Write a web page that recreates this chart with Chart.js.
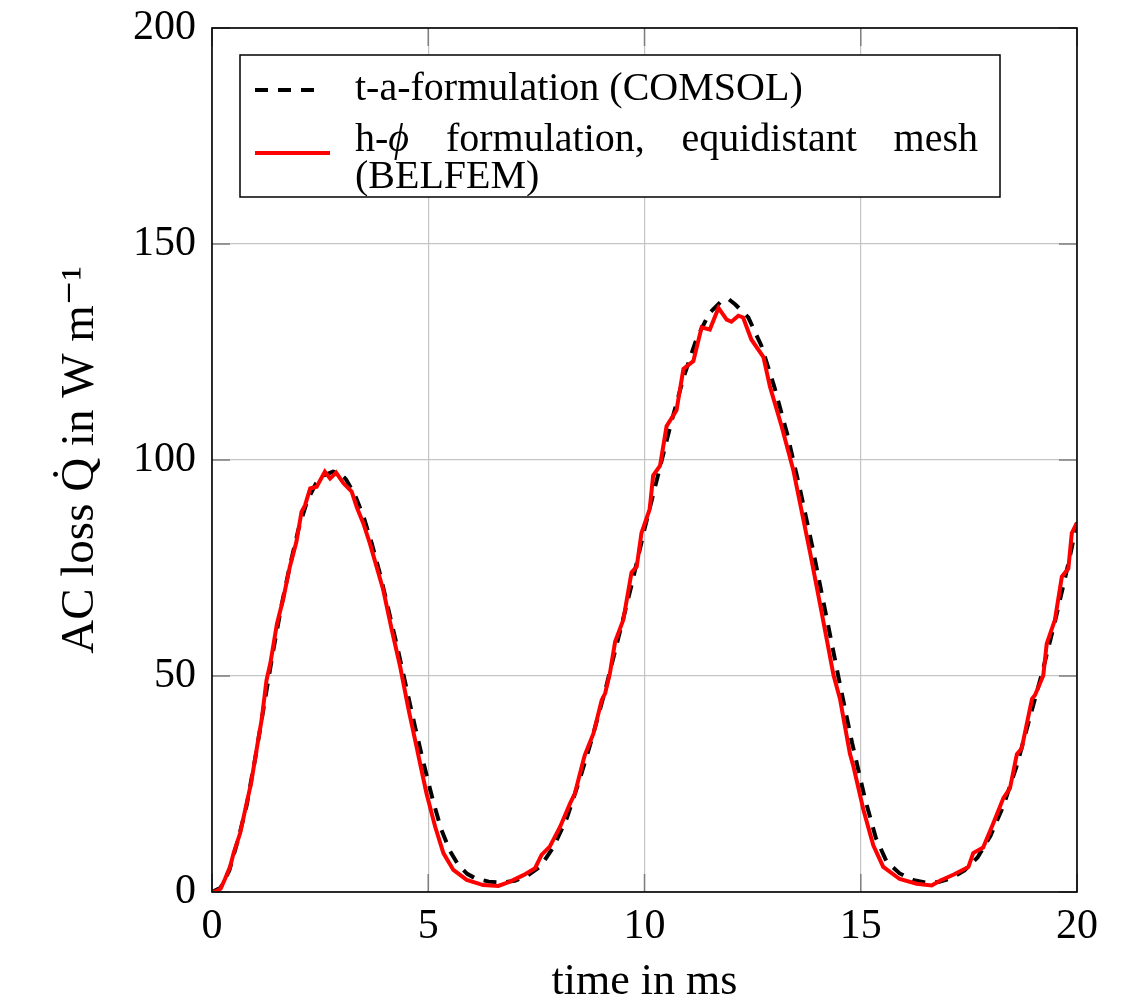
<!DOCTYPE html>
<html>
<head>
<meta charset="utf-8">
<script src="https://cdn.jsdelivr.net/npm/chart.js@4/dist/chart.umd.min.js"></script>
<style>
  html, body { margin: 0; padding: 0; background: #fff; }
  #wrap { width: 1147px; height: 1006px; }
</style>
</head>
<body>
<div id="wrap"><canvas id="myChart" width="1147" height="1006"></canvas></div>
<script>
// t-a-formulation (COMSOL), time in ms / loss in W/m
const comsolTime = [0, 0.2, 0.4, 0.6, 0.8, 1.0, 1.2, 1.4, 1.6, 1.8, 2.0, 2.2, 2.4, 2.6, 2.8, 2.95, 3.1, 3.3, 3.5, 3.7,
  3.9, 4.1, 4.3, 4.5, 4.7, 4.9, 5.1, 5.3, 5.5, 5.7, 5.9, 6.1, 6.4, 6.7, 7.0, 7.3, 7.6, 7.9, 8.2, 8.5,
  8.8, 9.1, 9.4, 9.7, 10.0, 10.3, 10.6, 10.9, 11.2, 11.5, 11.8, 11.95, 12.1, 12.4, 12.7, 13.0, 13.3, 13.6, 13.9, 14.2,
  14.5, 14.8, 15.1, 15.35, 15.6, 15.9, 16.2, 16.5, 16.8, 17.1, 17.4, 17.7, 18.0, 18.3, 18.6, 18.9, 19.2, 19.5, 19.8, 20.0];
const comsolLoss = [0, 1, 5, 12, 20, 31, 43, 55, 66, 75.5, 84, 90.5, 94.5, 96.5, 97.3, 97, 95.5, 92, 87, 80.5,
  73, 64.5, 56, 47, 38, 29.5, 21.5, 14.5, 9.5, 6.2, 4.2, 3.1, 2.4, 2.2, 2.6, 3.8, 6, 10.5, 17, 26,
  36, 47, 59, 71, 84, 96, 108, 119, 128, 134, 137, 137.2, 136, 133, 126.5, 117, 106, 93, 79, 64,
  49, 34.5, 21.5, 12.5, 7, 4.3, 2.8, 2.2, 2.3, 3.2, 5, 8, 13, 20, 29, 40, 51, 63, 76, 85.5];

// h-phi formulation, equidistant mesh (BELFEM)
const belfemTime = [0, 0.1, 0.2, 0.3, 0.42, 0.5, 0.65, 0.8, 0.9, 1.03, 1.15, 1.26, 1.35, 1.5, 1.65, 1.8, 1.95, 2.07, 2.15, 2.27,
  2.42, 2.61, 2.73, 2.87, 3.04, 3.23, 3.35, 3.5, 3.65, 3.8, 3.96, 4.15, 4.35, 4.55, 4.73, 4.81, 4.96, 5.16, 5.35, 5.58,
  5.89, 6.27, 6.62, 6.89, 7.2, 7.47, 7.62, 7.81, 8.05, 8.28, 8.39, 8.59, 8.62, 8.82, 9.01, 9.09, 9.2, 9.32, 9.51, 9.7,
  9.82, 9.93, 10.12, 10.2, 10.36, 10.51, 10.74, 10.9, 11.13, 11.32, 11.51, 11.71, 11.9, 12.01, 12.17, 12.28, 12.47, 12.75, 12.9, 13.17,
  13.44, 13.83, 14.1, 14.37, 14.52, 14.75, 14.83, 15.06, 15.29, 15.52, 15.9, 16.29, 16.64, 16.83, 17.14, 17.49, 17.6, 17.83, 18.06, 18.3,
  18.45, 18.61, 18.72, 18.96, 19.03, 19.22, 19.3, 19.49, 19.65, 19.8, 19.88, 20.0];
const belfemLoss = [0, 0.2, 0.8, 3, 5.9, 9, 13.6, 20.5, 25, 32.9, 40, 49, 53, 62, 68, 75.3, 81, 88, 89.5, 93.4,
  93.8, 97.3, 95.7, 97.1, 94.6, 92.7, 89, 85.3, 80.7, 75.5, 69.9, 61, 52.2, 42, 33.6, 29.8, 22.8, 15.1, 9, 5.1,
  2.8, 1.6, 1.4, 2.4, 3.9, 5.5, 8.6, 10.5, 15.1, 20.5, 22.8, 30.6, 31.7, 36.7, 44.4, 46, 50.6, 57.9, 63, 74,
  75.3, 83.1, 88.6, 96.4, 98.7, 107.8, 111.5, 121.1, 122.9, 130.7, 130.2, 135.2, 132.5, 132, 133.4, 133, 127.9, 123.8, 117, 107.8,
  97.7, 78.5, 64.5, 50.2, 44.7, 32, 29.1, 19.1, 10.8, 5.8, 3, 1.9, 1.5, 2.6, 4, 5.8, 9, 10.3, 15.8, 21.8,
  24, 31.9, 33.2, 44.7, 45.6, 50.1, 57.5, 63, 73, 74.9, 83.1, 85.5];

const xTickValues = [0, 5, 10, 15, 20];
const yTickValues = [0, 50, 100, 150, 200];

const seriesNames = ["t-a-formulation (COMSOL)", "h-ϕ formulation, equidistant mesh (BELFEM)"];

const serif = '"Liberation Serif", "DejaVu Serif", serif';

function toPoints(xs, ys) {
  return xs.map((x, i) => ({ x: x, y: ys[i] }));
}

// frame + pgfplots style inner tick marks
const framePlugin = {
  id: "frame",
  afterDatasetsDraw(chart) {
    const { ctx, chartArea: a, scales } = chart;
    ctx.save();
    ctx.strokeStyle = "#7f7f7f";
    ctx.lineWidth = 1.5;
    ctx.beginPath();
    xTickValues.forEach((v) => {
      const px = scales.x.getPixelForValue(v);
      ctx.moveTo(px, a.bottom); ctx.lineTo(px, a.bottom - 18);
      ctx.moveTo(px, a.top); ctx.lineTo(px, a.top + 18);
    });
    yTickValues.forEach((v) => {
      const py = scales.y.getPixelForValue(v);
      ctx.moveTo(a.left, py); ctx.lineTo(a.left + 18, py);
      ctx.moveTo(a.right, py); ctx.lineTo(a.right - 18, py);
    });
    ctx.stroke();
    ctx.strokeStyle = "#000";
    ctx.lineWidth = 1.6;
    ctx.strokeRect(a.left, a.top, a.right - a.left, a.bottom - a.top);
    ctx.restore();
  }
};

// legend box like the pgfplots one (second entry wraps and is justified)
const legendPlugin = {
  id: "boxLegend",
  afterDraw(chart) {
    const ctx = chart.ctx;
    const ds = chart.data.datasets;
    const bx = 240, by = 55, bw = 760, bh = 142;
    ctx.save();
    ctx.fillStyle = "#fff";
    ctx.fillRect(bx, by, bw, bh);
    ctx.strokeStyle = "#000";
    ctx.lineWidth = 1.5;
    ctx.strokeRect(bx, by, bw, bh);

    // samples
    ctx.lineWidth = 4;
    ctx.strokeStyle = ds[1].borderColor;
    ctx.setLineDash(ds[1].borderDash);
    ctx.beginPath(); ctx.moveTo(255, 90); ctx.lineTo(322, 90); ctx.stroke();
    ctx.setLineDash([]);
    ctx.strokeStyle = ds[0].borderColor;
    ctx.beginPath(); ctx.moveTo(255, 153); ctx.lineTo(330, 153); ctx.stroke();

    ctx.fillStyle = "#000";
    ctx.textBaseline = "alphabetic";
    ctx.textAlign = "left";
    const font = "40px " + serif;
    const italic = "italic 40px " + serif;
    ctx.font = font;
    ctx.fillText(seriesNames[0], 355, 100);

    // justified first line of the second entry
    const words = ["h-ϕ", "formulation,", "equidistant", "mesh"];
    const widths = words.map((w) => ctx.measureText(w).width);
    const left = 355, right = 978;
    const total = widths.reduce((s, w) => s + w, 0);
    const gap = (right - left - total) / (words.length - 1);
    let x = left;
    words.forEach((w, i) => {
      if (w === "h-ϕ") {
        ctx.font = font;
        ctx.fillText("h-", x, 151);
        const hw = ctx.measureText("h-").width;
        ctx.font = italic;
        ctx.fillText("ϕ", x + hw, 151);
        ctx.font = font;
      } else {
        ctx.fillText(w, x, 151);
      }
      x += widths[i] + gap;
    });
    ctx.fillText("(BELFEM)", 355, 188);
    ctx.restore();
  }
};

const config = {
  type: "line",
  data: {
    datasets: [
      {
        label: seriesNames[1],
        data: toPoints(belfemTime, belfemLoss),
        borderColor: "#ff0000",
        borderWidth: 4,
        pointRadius: 0,
        tension: 0,
        order: 0
      },
      {
        label: seriesNames[0],
        data: toPoints(comsolTime, comsolLoss),
        borderColor: "#000000",
        borderWidth: 4,
        borderDash: [13, 10],
        pointRadius: 0,
        tension: 0,
        order: 1
      }
    ]
  },
  options: {
    responsive: false,
    animation: false,
    layout: { autoPadding: false, padding: { top: 28, right: 70, left: 0, bottom: 0 } },
    plugins: {
      legend: { display: false },
      tooltip: { enabled: false }
    },
    scales: {
      x: {
        type: "linear",
        min: 0,
        max: 20,
        afterBuildTicks: (s) => { s.ticks = xTickValues.map((v) => ({ value: v })); },
        afterFit: (s) => { s.height = 114; },
        grid: { color: "#c4c4c4", lineWidth: 1.2, drawTicks: false },
        border: { display: false },
        ticks: { color: "#000", padding: 10, maxRotation: 0, font: { family: serif, size: 42 } },
        title: {
          display: true,
          text: "time in ms",
          color: "#000",
          font: { family: serif, size: 44, lineHeight: 1 },
          padding: { top: 0, bottom: 2 }
        }
      },
      y: {
        min: 0,
        max: 200,
        afterBuildTicks: (s) => { s.ticks = yTickValues.map((v) => ({ value: v })); },
        afterFit: (s) => { s.width = 212; s.paddingTop = 0; s.paddingBottom = 0; },
        grid: { color: "#c4c4c4", lineWidth: 1.2, drawTicks: false },
        border: { display: false },
        ticks: { color: "#000", padding: 16, font: { family: serif, size: 42, lineHeight: 0.5 } },
        title: {
          display: true,
          text: "AC loss Q̇ in W m⁻¹",
          color: "#000",
          font: { family: serif, size: 47, lineHeight: 1 },
          padding: { top: 57, bottom: 0 }
        }
      }
    }
  },
  plugins: [framePlugin, legendPlugin]
};

new Chart(document.getElementById("myChart"), config);
</script>
</body>
</html>
